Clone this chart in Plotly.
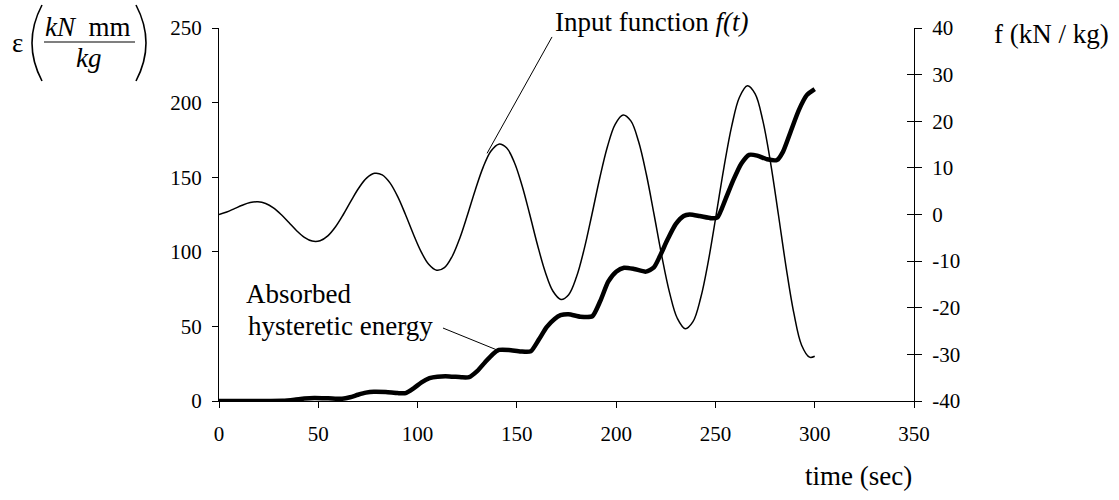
import plotly.graph_objects as go

# ---------------- data ----------------
f_t = [0, 3.9, 7.8, 11.7, 15.7, 19.6, 23.5, 27.4, 31.3, 35.2, 39.1, 43.0, 46.9, 50.9, 54.8, 58.7,
       62.6, 66.5, 70.4, 74.3, 78.3, 82.2, 86.1, 90.0, 93.9, 97.8, 101.7, 105.6, 109.6, 113.5, 117.4,
       121.3, 125.2, 129.1, 133.0, 136.9, 140.9, 144.8, 148.7, 152.6, 156.5, 160.4, 164.3, 168.2,
       172.2, 176.1, 180.0, 183.9, 187.8, 191.7, 195.6, 199.5, 203.5, 207.4, 211.3, 215.2, 219.1,
       223.0, 226.9, 230.8, 234.8, 238.7, 242.6, 246.5, 250.4, 254.3, 258.2, 262.1, 266.1, 270.0,
       273.9, 277.8, 281.7, 285.6, 289.5, 293.4, 297.4, 300]
f_v = [0, 0.54, 1.26, 2.00, 2.57, 2.73, 2.37, 1.44, 0, -1.73, -3.47, -4.89, -5.69, -5.62, -4.58, -2.63,
       0, 2.93, 5.68, 7.79, 8.83, 8.51, 6.79, 3.83, 0, -4.13, -7.90, -10.68, -11.96, -11.41, -9.01,
       -5.03, 0, 5.33, 10.11, 13.57, 15.09, 14.30, 11.22, 6.23, 0, -6.53, -12.32, -16.46,
       -18.22, -17.19, -13.43, -7.43, 0, 7.73, 14.53, 19.35, 21.35, 20.08, 15.64, 8.63, 0,
       -8.93, -16.75, -22.25, -24.48, -22.98, -17.86, -9.83, 0, 10.13, 18.96, 25.14, 27.61, 25.87,
       20.07, 11.03, 0, -11.32, -21.17, -28.03, -30.6, -30.4]

energy_t = [0, 20, 32, 38, 43, 48, 55, 62, 66, 70, 74, 78, 84, 90, 94, 98, 102, 106, 110, 116,
            122, 126, 130, 134, 138, 141, 146, 152, 157, 161, 165, 169, 172, 176, 182, 188, 192,
            196, 200, 204, 209, 215, 219, 222, 226, 230, 234, 237, 242, 248, 251, 255, 259, 263,
            267, 271, 276, 281, 284, 288, 292, 296, 300]
energy_v = [0, 0, 0.1, 0.8, 1.6, 2.0, 1.8, 1.5, 2.5, 4.2, 5.6, 6.2, 6.0, 5.3, 5.3, 8.5, 12.5, 15.3,
            16.3, 16.5, 15.9, 16.0, 20, 26, 31.5, 34.2, 34.2, 33.2, 33.3, 41, 49.5, 55, 57.5, 58.2,
            56.5, 56.8, 67, 80, 86.7, 89.3, 88.5, 86.7, 89.5, 97, 108.5, 118.5, 124, 125, 124,
            122.5, 123, 135, 148, 159, 165, 164.5, 162, 161.5, 167, 181, 195, 205, 209]

x_ticks = [0, 50, 100, 150, 200, 250, 300, 350]
left_ticks = [0, 50, 100, 150, 200, 250]
right_ticks = [-40, -30, -20, -10, 0, 10, 20, 30, 40]
right_labels = ["-40", "-30", "-20", "-10", "0", "10", "20", "30", "40"]

# ---------------- layout geometry ----------------
W, H = 1119, 500
ML, MR, MT, MB = 219, 205, 28, 99
PW, PH = W - ML - MR, H - MT - MB
FONT = "Liberation Serif"


def P(px, py):
    """pixel -> paper coordinates"""
    return (px - ML) / PW, (H - MB - py) / PH


fig = go.Figure()
fig.add_trace(go.Scatter(x=f_t, y=f_v, yaxis="y2", mode="lines",
                         line=dict(color="black", width=1.5, shape="spline", smoothing=1.0),
                         showlegend=False, hoverinfo="skip"))
fig.add_trace(go.Scatter(x=energy_t, y=energy_v, yaxis="y", mode="lines",
                         line=dict(color="black", width=4.5, shape="spline", smoothing=0.6),
                         showlegend=False, hoverinfo="skip"))
# invisible trace to activate the extra tick axis
fig.add_trace(go.Scatter(x=[None], y=[None], yaxis="y3", showlegend=False))

tickfont = dict(family=FONT, size=21, color="black")
fig.update_layout(
    width=W, height=H,
    margin=dict(l=ML, r=MR, t=MT, b=MB, autoexpand=False),
    paper_bgcolor="white", plot_bgcolor="white",
    font=dict(family=FONT, color="black"),
    xaxis=dict(range=[0, 350], tickvals=x_ticks, ticks="outside", ticklen=6, tickwidth=1,
               tickcolor="black", showline=True, linecolor="black", linewidth=1,
               showgrid=False, zeroline=False, tickfont=tickfont, ticklabelstandoff=8),
    yaxis=dict(range=[0, 250], tickvals=left_ticks, ticks="outside", ticklen=6, tickwidth=1,
               tickcolor="black", showline=True, linecolor="black", linewidth=1,
               showgrid=False, zeroline=False, tickfont=tickfont, ticklabelstandoff=6),
    yaxis2=dict(range=[-40, 40], tickvals=right_ticks, ticktext=right_labels, overlaying="y",
                side="right", anchor="x",
                ticks="outside", ticklen=7, tickwidth=1, tickcolor="black", showline=True,
                linecolor="black", linewidth=1, showgrid=False, zeroline=False,
                tickfont=tickfont, ticklabelstandoff=6),
    yaxis3=dict(range=[-40, 40], tickvals=right_ticks, overlaying="y", side="right", anchor="x",
                ticks="inside", ticklen=7, tickwidth=1, tickcolor="black", showline=False,
                showticklabels=False, showgrid=False, zeroline=False),
)


def text(s, px, py, xanchor="left", size=27):
    x, y = P(px, py)
    fig.add_annotation(x=x, y=y, xref="paper", yref="paper", text=s, showarrow=False,
                       xanchor=xanchor, yanchor="middle",
                       font=dict(family=FONT, size=size, color="black"))


text("Input function <i>f(t)</i>", 553, 22)
text("Absorbed", 244, 294)
text("hysteretic energy", 246, 326)
text("f (kN / kg)", 992, 34)
text("time (sec)", 914, 476, xanchor="right")
# left axis title: epsilon (kN mm / kg)
text("ε", 17, 43, xanchor="center", size=27)
text("<i>kN</i>\u00a0\u00a0mm", 88, 27, xanchor="center", size=27)
text("<i>kg</i>", 88, 58, xanchor="center", size=27)


# big parentheses and fraction bar
def path(points):
    (x0, y0), (x1, y1), (x2, y2) = [P(*p) for p in points]
    return f"M {x0},{y0} Q {x1},{y1} {x2},{y2}"


fig.add_shape(type="path", xref="paper", yref="paper",
              path=path([(42, 5), (22, 43), (42, 81)]), line=dict(color="black", width=1.6))
fig.add_shape(type="path", xref="paper", yref="paper",
              path=path([(136, 5), (156, 43), (136, 81)]), line=dict(color="black", width=1.6))
bx0, by = P(44, 42)
bx1, _ = P(135, 42)
fig.add_shape(type="line", xref="paper", yref="paper", x0=bx0, x1=bx1, y0=by, y1=by,
              line=dict(color="black", width=1.2))

# leader lines
fig.add_shape(type="line", xref="x", yref="y", x0=167.7, y0=244, x1=135, y1=166,
              line=dict(color="black", width=1))
fig.add_shape(type="line", xref="x", yref="y", x0=112.8, y0=48.9, x1=140, y1=34.2,
              line=dict(color="black", width=1))

fig.write_html("out.html", config={"displayModeBar": False})
